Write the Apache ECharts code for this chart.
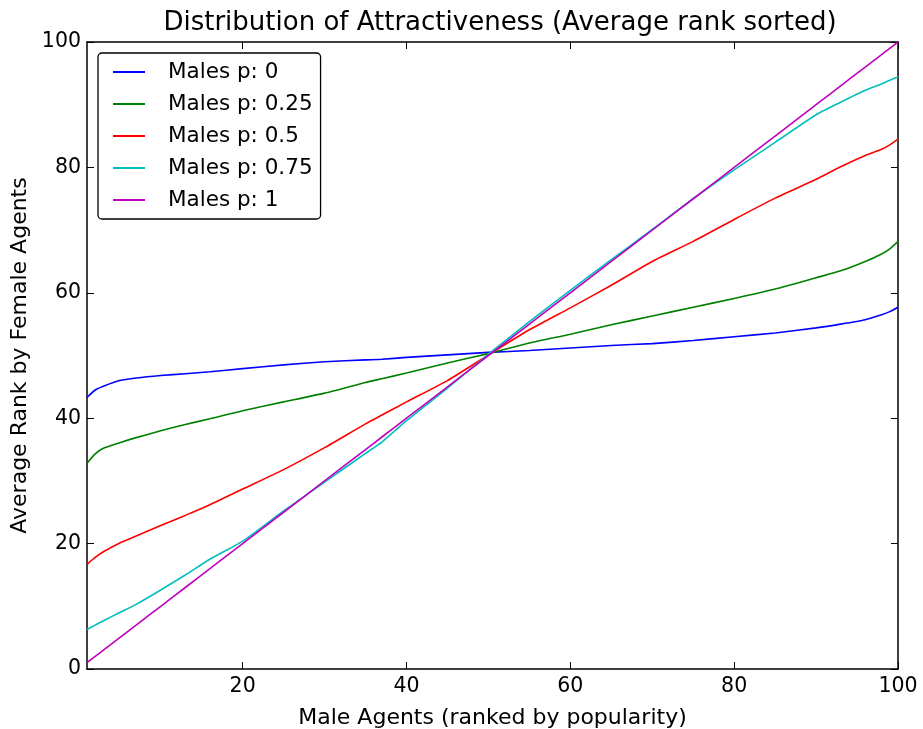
<!DOCTYPE html>
<html>
<head>
<meta charset="utf-8">
<script src="https://cdn.jsdelivr.net/npm/echarts@6/dist/echarts.min.js"></script>
<style>
  html, body { margin: 0; padding: 0; background: #ffffff; }
  #chart { width: 923px; height: 729px; }
</style>
</head>
<body>
<div id="chart"></div>
<script>
// Male agent rank positions (x) at which each curve is sampled
const rankX = [1, 2, 3, 5, 7, 10, 13, 16, 20, 25, 30, 35, 37, 40, 45, 50, 55, 60, 65, 70, 75, 80, 85, 90, 93, 96, 98, 99, 100];

// Average rank given by female agents, one array per male p value
const malesP0    = [43.3, 44.5, 45.1, 46.0, 46.4, 46.8, 47.1, 47.4, 47.9, 48.5, 49.0, 49.3, 49.4, 49.7, 50.1, 50.5, 50.8, 51.2, 51.6, 51.9, 52.4, 53.0, 53.6, 54.4, 55.0, 55.7, 56.5, 57.0, 57.7];
const malesP025  = [32.8, 34.3, 35.2, 36.1, 36.9, 38.0, 39.0, 39.9, 41.2, 42.6, 44.0, 45.7, 46.3, 47.2, 48.8, 50.3, 52.0, 53.4, 54.9, 56.3, 57.7, 59.1, 60.6, 62.4, 63.5, 65.0, 66.2, 67.0, 68.2];
const malesP05   = [16.7, 17.8, 18.7, 20.1, 21.2, 22.9, 24.5, 26.2, 28.7, 31.8, 35.3, 39.1, 40.5, 42.6, 46.0, 50.1, 54.1, 57.6, 61.2, 65.0, 68.2, 71.7, 75.1, 78.1, 80.1, 81.9, 82.9, 83.6, 84.5];
const malesP075  = [6.3, 7.0, 7.7, 9.0, 10.3, 12.6, 15.0, 17.5, 20.4, 25.2, 29.8, 34.4, 36.2, 39.6, 44.8, 50.2, 55.4, 60.4, 65.3, 70.1, 75.0, 79.6, 84.0, 88.4, 90.4, 92.3, 93.3, 93.9, 94.4];
const malesP1    = [1, 2, 3, 5, 7, 10, 13, 16, 20, 25, 30, 35, 37, 40, 45, 50, 55, 60, 65, 70, 75, 80, 85, 90, 93, 96, 98, 99, 100];

const seriesNames = ['Males p: 0', 'Males p: 0.25', 'Males p: 0.5', 'Males p: 0.75', 'Males p: 1'];
const seriesValues = [malesP0, malesP025, malesP05, malesP075, malesP1];
const seriesColors = ['#0000ff', '#008000', '#ff0000', '#00bfbf', '#bf00bf'];

const xTicks = [20, 40, 60, 80, 100];

const FONT = 'DejaVu Sans';

const chart = echarts.init(document.getElementById('chart'), null, { renderer: 'canvas' });

const axisLine = { show: true, onZero: false, lineStyle: { color: '#000', width: 1.5 } };
const tickStyle = { show: true, inside: true, length: 7, lineStyle: { color: '#000', width: 1 } };

const option = {
  backgroundColor: '#ffffff',
  animation: false,
  title: {
    text: 'Distribution of Attractiveness (Average rank sorted)',
    left: 495,
    textAlign: 'center',
    top: 5,
    textStyle: { fontFamily: FONT, fontSize: 26, fontWeight: 'normal', color: '#000' }
  },
  grid: { left: 87, right: 25, top: 42, bottom: 60, containLabel: false, outerBoundsMode: 'none' },
  legend: {
    orient: 'vertical',
    left: 98,
    top: 53,
    data: seriesNames.map(n => ({ name: n, icon: 'rect' })),
    itemWidth: 32,
    itemHeight: 2,
    itemGap: 10,
    padding: [8, 8, 8, 15],
    borderColor: '#000',
    borderWidth: 1.3,
    borderRadius: 4,
    backgroundColor: '#fff',
    textStyle: { fontFamily: FONT, fontSize: 21.5, color: '#000', lineHeight: 22, padding: [0, 0, 0, 18] }
  },
  xAxis: [
    {
      type: 'value', min: 1, max: 100, position: 'bottom',
      name: 'Male Agents (ranked by popularity)', nameLocation: 'middle', nameGap: 38,
      nameTextStyle: { fontFamily: FONT, fontSize: 22, color: '#000' },
      axisLine: axisLine,
      axisTick: Object.assign({ customValues: xTicks }, tickStyle),
      axisLabel: { customValues: xTicks, fontFamily: FONT, fontSize: 20.5, color: '#000', margin: 7 },
      splitLine: { show: false }
    },
    {
      type: 'value', min: 1, max: 100, position: 'top',
      axisLine: axisLine,
      axisTick: Object.assign({ customValues: xTicks }, tickStyle),
      axisLabel: { show: false },
      splitLine: { show: false }
    }
  ],
  yAxis: [
    {
      type: 'value', min: 0, max: 100, interval: 20, position: 'left',
      name: 'Average Rank by Female Agents', nameLocation: 'middle', nameGap: 52,
      nameTextStyle: { fontFamily: FONT, fontSize: 22, color: '#000' },
      axisLine: axisLine,
      axisTick: tickStyle,
      axisLabel: { fontFamily: FONT, fontSize: 20.5, color: '#000', margin: 6 },
      splitLine: { show: false }
    },
    {
      type: 'value', min: 0, max: 100, interval: 20, position: 'right',
      axisLine: axisLine,
      axisTick: tickStyle,
      axisLabel: { show: false },
      splitLine: { show: false }
    }
  ],
  series: seriesNames.map((name, i) => ({
    name: name,
    type: 'line',
    xAxisIndex: 0,
    yAxisIndex: 0,
    data: rankX.map((x, j) => [x, seriesValues[i][j]]),
    showSymbol: false,
    symbol: 'none',
    smooth: 0.2,
    lineStyle: { color: seriesColors[i], width: 1.6 },
    itemStyle: { color: seriesColors[i] },
    emphasis: { disabled: true }
  }))
};

chart.setOption(option);
</script>
</body>
</html>
